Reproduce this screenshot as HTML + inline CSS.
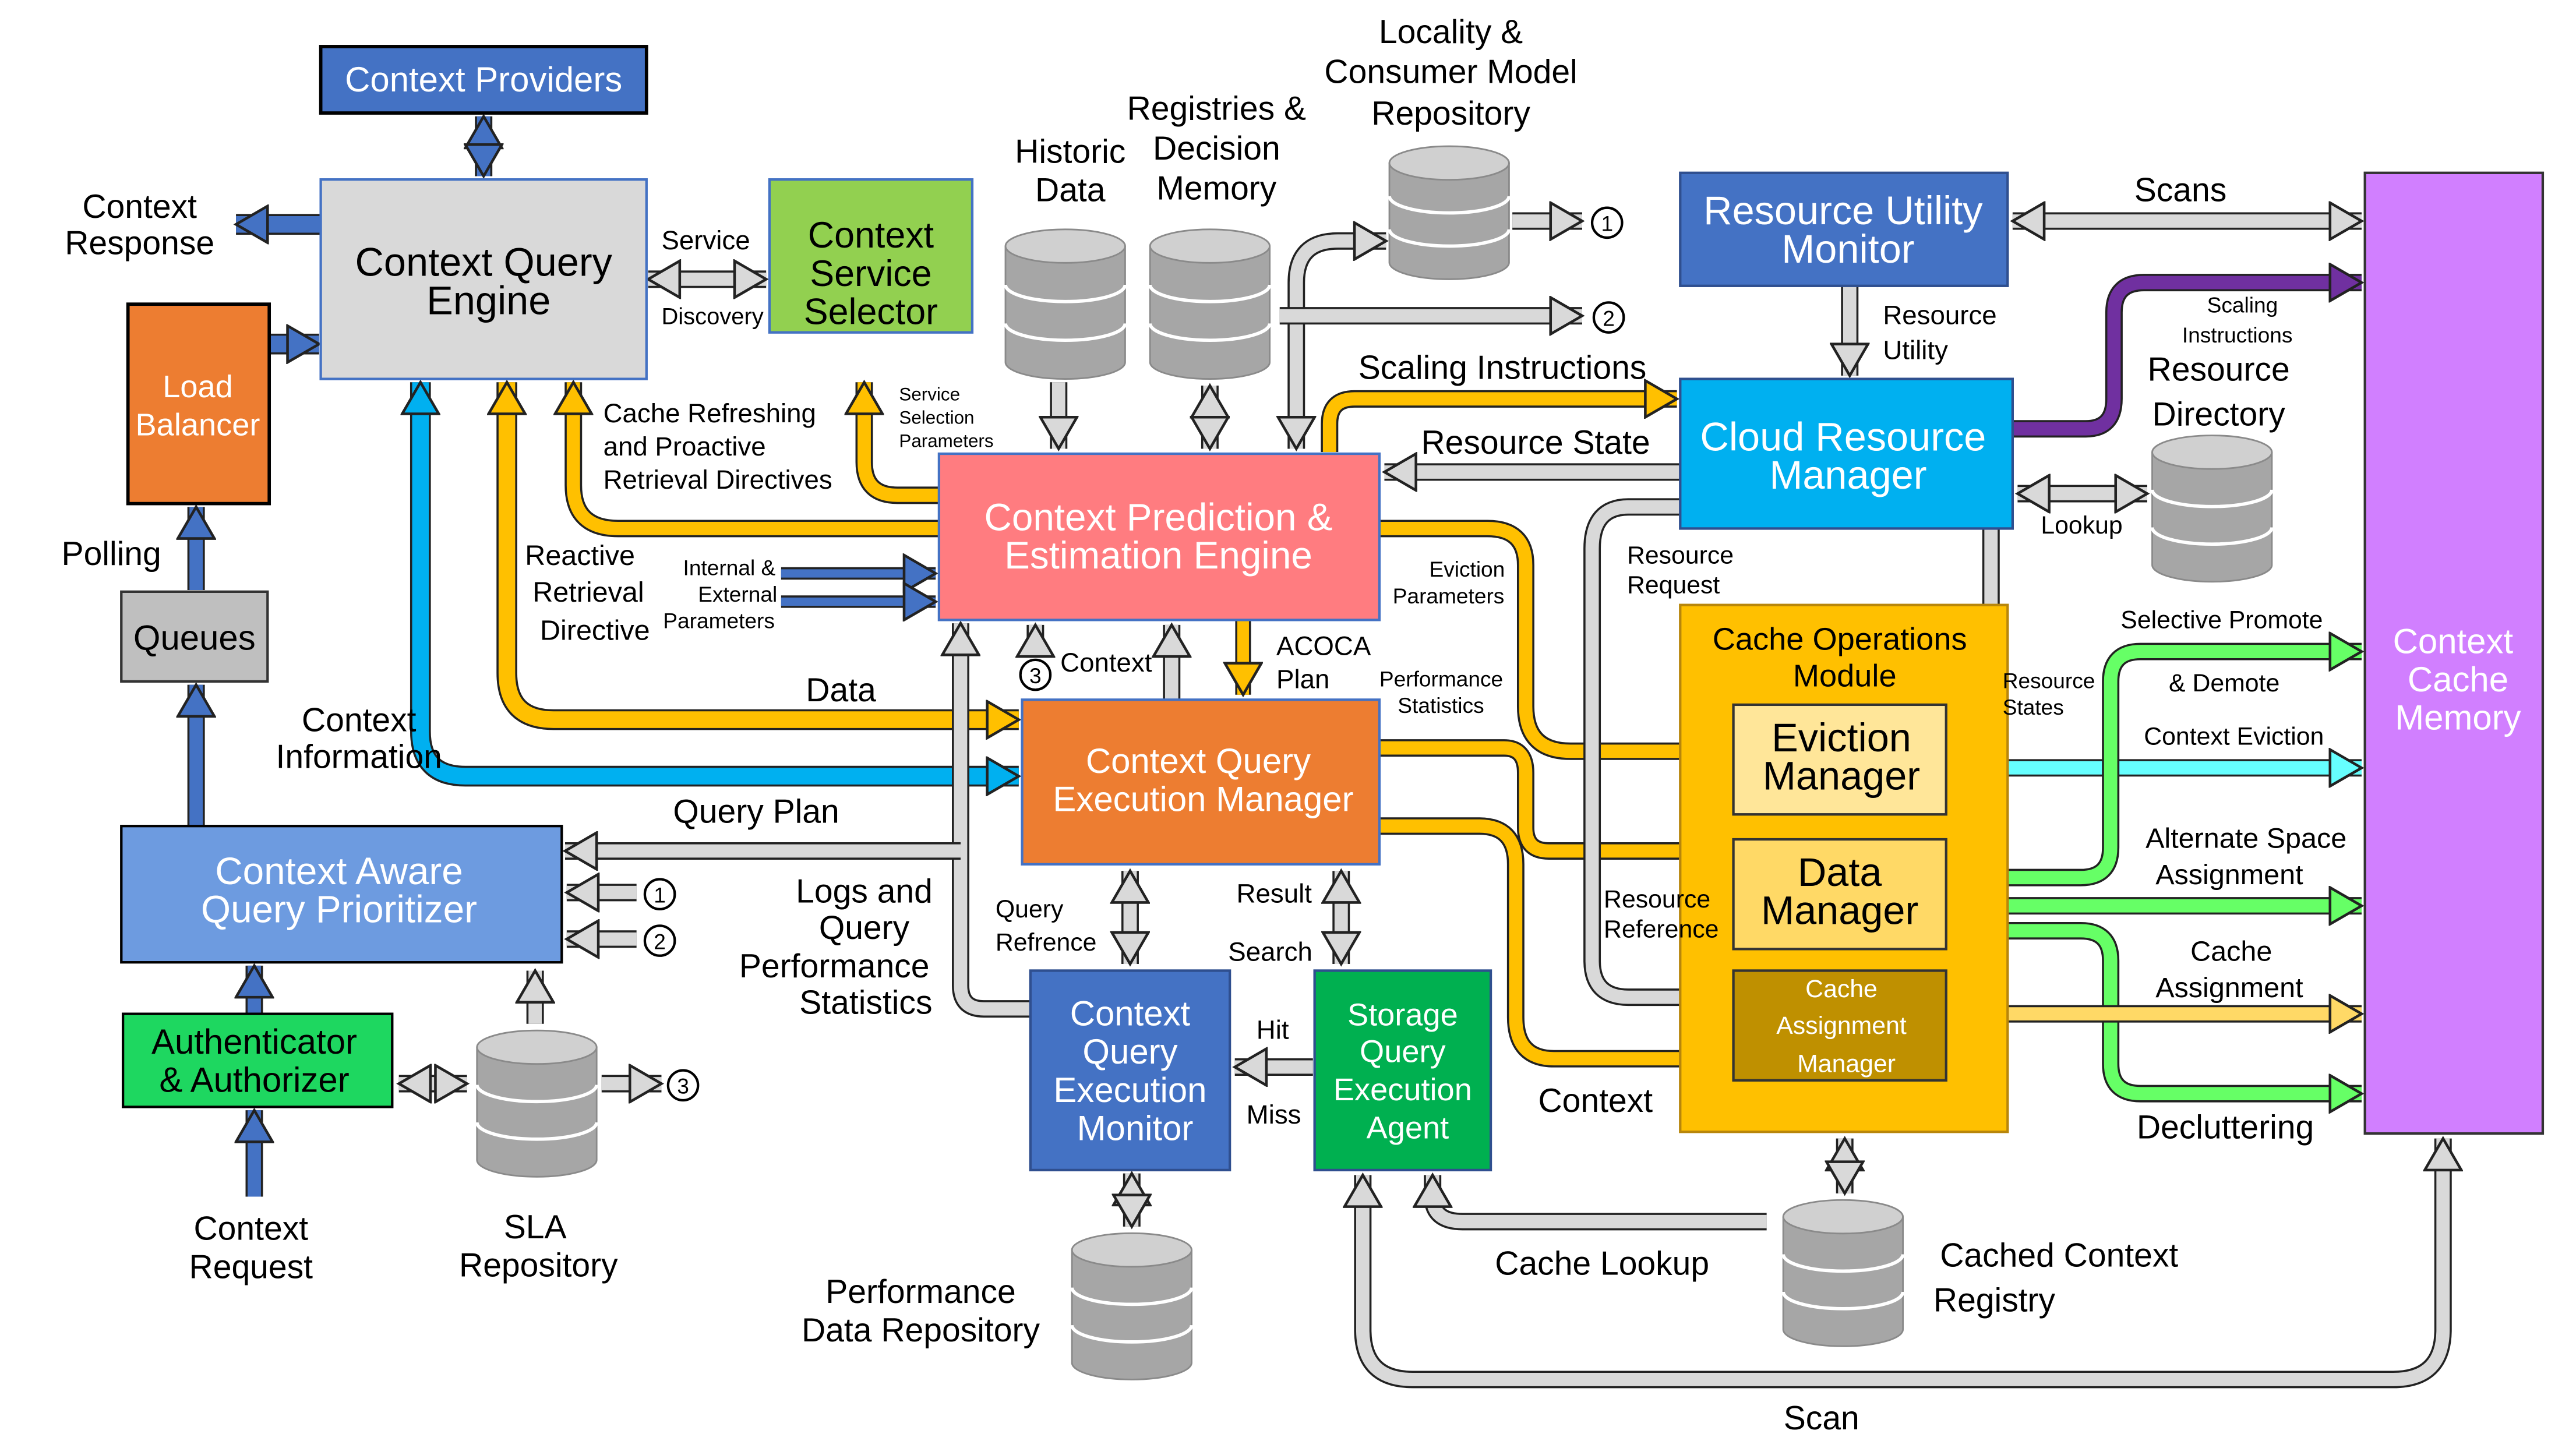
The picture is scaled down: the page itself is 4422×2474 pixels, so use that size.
<!DOCTYPE html>
<html><head><meta charset="utf-8"><style>
html,body{margin:0;padding:0;background:#fff}
svg{display:block}
text{font-family:"Liberation Sans",Arial,sans-serif}
</style></head><body>
<svg id="s" width="4422" height="2474" viewBox="0 0 1550 867" preserveAspectRatio="none" xmlns="http://www.w3.org/2000/svg">
<defs id="defs"></defs>
<rect x="0" y="0" width="1550" height="867" fill="#fff"/>
<g id="arrows"></g>
<g id="boxes">
<rect x="1011" y="364" width="197" height="317" fill="#ffc000" stroke="#b8860b" stroke-width="1.5"/>
<rect x="193" y="28" width="196" height="40" fill="#4472c4" stroke="#000" stroke-width="2"/>
<rect x="193" y="108" width="196" height="120" fill="#d9d9d9" stroke="#4472c4" stroke-width="1.5"/>
<rect x="463" y="108" width="122" height="92" fill="#92d050" stroke="#4472c4" stroke-width="1.5"/>
<rect x="77" y="183" width="85" height="120" fill="#ed7d31" stroke="#000" stroke-width="2"/>
<rect x="73" y="356" width="88" height="54" fill="#bfbfbf" stroke="#333" stroke-width="1.5"/>
<rect x="73" y="497" width="265" height="82" fill="#6d9be0" stroke="#000" stroke-width="1.5"/>
<rect x="74" y="610" width="162" height="56" fill="#1ed760" stroke="#000" stroke-width="1.5"/>
<rect x="565" y="273" width="265" height="100" fill="#ff7c80" stroke="#4472c4" stroke-width="1.5"/>
<rect x="615" y="421" width="215" height="99" fill="#ed7d31" stroke="#4472c4" stroke-width="1.5"/>
<rect x="620" y="584" width="120" height="120" fill="#4472c4" stroke="#2f4f8f" stroke-width="1.5"/>
<rect x="791" y="584" width="106" height="120" fill="#00b050" stroke="#2f4f8f" stroke-width="1.5"/>
<rect x="1011" y="104" width="197" height="68" fill="#4472c4" stroke="#2f4f8f" stroke-width="1.5"/>
<rect x="1011" y="228" width="200" height="90" fill="#00b0f0" stroke="#2f4f8f" stroke-width="1.5"/>
<rect x="1043" y="424" width="128" height="66" fill="#ffe699" stroke="#333" stroke-width="1.5"/>
<rect x="1043" y="505" width="128" height="66" fill="#ffd966" stroke="#333" stroke-width="1.5"/>
<rect x="1043" y="584" width="128" height="66" fill="#bf9000" stroke="#333" stroke-width="1.5"/>
<rect x="1423" y="104" width="107" height="578" fill="#d17fff" stroke="#333" stroke-width="1.5"/>
</g>
<g id="dbs"></g>
<g font-size="21" text-anchor="middle">
<text x="291" y="55" fill="#fff">Context Providers</text>
<text x="291" y="166" font-size="24">Context Query</text>
<text x="294" y="189" font-size="24">Engine</text>
<text x="524" y="149" font-size="22">Context</text>
<text x="524" y="172" font-size="22">Service</text>
<text x="524" y="195" font-size="22">Selector</text>
<text x="119" y="239" fill="#fff" font-size="19">Load</text>
<text x="119" y="262" fill="#fff" font-size="19">Balancer</text>
<text x="117" y="391">Queues</text>
<text x="204" y="532" fill="#fff" font-size="23">Context Aware</text>
<text x="204" y="555" fill="#fff" font-size="23">Query Prioritizer</text>
<text x="153" y="634">Authenticator</text>
<text x="153" y="657">&amp; Authorizer</text>
<text x="697" y="319" fill="#fff" font-size="23">Context Prediction &amp;</text>
<text x="697" y="342" fill="#fff" font-size="23">Estimation Engine</text>
<text x="721" y="465" fill="#fff">Context Query</text>
<text x="724" y="488" fill="#fff">Execution Manager</text>
<text x="680" y="617" fill="#fff">Context</text>
<text x="680" y="640" fill="#fff">Query</text>
<text x="680" y="663" fill="#fff">Execution</text>
<text x="683" y="686" fill="#fff">Monitor</text>
<text x="844" y="617" fill="#fff" font-size="19">Storage</text>
<text x="844" y="639" fill="#fff" font-size="19">Query</text>
<text x="844" y="662" fill="#fff" font-size="19">Execution</text>
<text x="847" y="685" fill="#fff" font-size="19">Agent</text>
<text x="1109" y="135" fill="#fff" font-size="24">Resource Utility</text>
<text x="1112" y="158" fill="#fff" font-size="24">Monitor</text>
<text x="1109" y="271" fill="#fff" font-size="24">Cloud Resource</text>
<text x="1112" y="294" fill="#fff" font-size="24">Manager</text>
<text x="1107" y="391" font-size="19">Cache Operations</text>
<text x="1110" y="413" font-size="19">Module</text>
<text x="1108" y="452" font-size="24">Eviction</text>
<text x="1108" y="475" font-size="24">Manager</text>
<text x="1107" y="533" font-size="24">Data</text>
<text x="1107" y="556" font-size="24">Manager</text>
<text x="1108" y="600" fill="#fff" font-size="15">Cache</text>
<text x="1108" y="622" fill="#fff" font-size="15">Assignment</text>
<text x="1111" y="645" fill="#fff" font-size="15">Manager</text>
<text x="1476" y="393" fill="#fff">Context</text>
<text x="1479" y="416" fill="#fff">Cache</text>
<text x="1479" y="439" fill="#fff">Memory</text>
</g>
<g font-size="20" text-anchor="middle">
<text x="84" y="131">Context</text>
<text x="84" y="153">Response</text>
<text x="67" y="340">Polling</text>
<text x="216" y="440">Context</text>
<text x="216" y="462">Information</text>
<text x="455" y="495">Query Plan</text>
<text x="506" y="422">Data</text>
<text x="520" y="543">Logs and</text>
<text x="520" y="565">Query</text>
<text x="502" y="588">Performance</text>
<text x="521" y="610">Statistics</text>
<text x="151" y="746">Context</text>
<text x="151" y="769">Request</text>
<text x="322" y="745">SLA</text>
<text x="324" y="768">Repository</text>
<text x="554" y="784">Performance</text>
<text x="554" y="807">Data Repository</text>
<text x="644" y="98">Historic</text>
<text x="644" y="121">Data</text>
<text x="732" y="72">Registries &amp;</text>
<text x="732" y="96">Decision</text>
<text x="732" y="120">Memory</text>
<text x="873" y="26">Locality &amp;</text>
<text x="873" y="50">Consumer Model</text>
<text x="873" y="75">Repository</text>
<text x="1312" y="121">Scans</text>
<text x="904" y="228">Scaling Instructions</text>
<text x="924" y="273">Resource State</text>
<text x="1335" y="229">Resource</text>
<text x="1335" y="256">Directory</text>
<text x="960" y="669">Context</text>
<text x="964" y="767">Cache Lookup</text>
<text x="1239" y="762">Cached Context</text>
<text x="1200" y="789">Registry</text>
<text x="1096" y="860">Scan</text>
<text x="1339" y="685">Decluttering</text>
<text x="349" y="340" font-size="17">Reactive</text>
<text x="354" y="362" font-size="17">Retrieval</text>
<text x="358" y="385" font-size="17">Directive</text>
</g>
<g font-size="16" text-anchor="start">
<text x="398" y="150">Service</text>
<text x="398" y="195" font-size="14">Discovery</text>
<text x="363" y="254">Cache Refreshing</text>
<text x="363" y="274">and Proactive</text>
<text x="363" y="294">Retrieval Directives</text>
<text x="768" y="394">ACOCA</text>
<text x="768" y="414">Plan</text>
<text x="638" y="404">Context</text>
<text x="599" y="552" font-size="15">Query</text>
<text x="599" y="572" font-size="15">Refrence</text>
<text x="744" y="543">Result</text>
<text x="739" y="578">Search</text>
<text x="756" y="625">Hit</text>
<text x="750" y="676">Miss</text>
<text x="1133" y="195">Resource</text>
<text x="1133" y="216">Utility</text>
<text x="979" y="339" font-size="15">Resource</text>
<text x="979" y="357" font-size="15">Request</text>
<text x="965" y="546" font-size="15">Resource</text>
<text x="965" y="564" font-size="15">Reference</text>
<text x="1228" y="321" font-size="15">Lookup</text>
<text x="1276" y="378" font-size="15">Selective Promote</text>
<text x="1305" y="416" font-size="15">&amp; Demote</text>
<text x="1290" y="448" font-size="15">Context Eviction</text>
<text x="1291" y="510" font-size="17">Alternate Space</text>
<text x="1297" y="532" font-size="17">Assignment</text>
<text x="1318" y="578" font-size="17">Cache</text>
<text x="1297" y="600" font-size="17">Assignment</text>
</g>
<g font-size="13" text-anchor="start">
<text x="411" y="346">Internal &amp;</text>
<text x="420" y="362">External</text>
<text x="399" y="378">Parameters</text>
<text x="541" y="241" font-size="11">Service</text>
<text x="541" y="255" font-size="11">Selection</text>
<text x="541" y="269" font-size="11">Parameters</text>
<text x="860" y="347">Eviction</text>
<text x="838" y="363">Parameters</text>
<text x="830" y="413">Performance</text>
<text x="841" y="429">Statistics</text>
<text x="1205" y="414">Resource</text>
<text x="1205" y="430">States</text>
<text x="1328" y="188">Scaling</text>
<text x="1313" y="206">Instructions</text>
</g>
<g id="circ"></g>
</svg>
<script>
const NS="http://www.w3.org/2000/svg";
const defs=document.getElementById('defs'),G=document.getElementById('arrows');
const cols={};
function el(t,a,p){const e=document.createElementNS(NS,t);for(const k in a)e.setAttribute(k,a[k]);(p||G).appendChild(e);return e;}
function mk(c){
 if(cols[c])return cols[c];const id='m'+Object.keys(cols).length;cols[c]=id;
 const m=el('marker',{id:id,markerUnits:'userSpaceOnUse',markerWidth:24,markerHeight:24,viewBox:'0 0 24 24',refX:22,refY:12,orient:'auto-start-reverse'},defs);
 el('path',{d:'M3,1 L22,12 L3,23 z',fill:c,stroke:'#222','stroke-width':1.6,'stroke-linejoin':'miter'},m);
 return id;}
mk('#000');
function A(d,c,s,e,w){w=w||8;const id=mk(c);
 el('path',{d:d,fill:'none',stroke:'#222','stroke-width':w+2.5,'stroke-linejoin':'round'});
 const a={d:d,fill:'none',stroke:c,'stroke-width':w,'stroke-linejoin':'round'};
 if(s)a['marker-start']='url(#'+id+')';if(e)a['marker-end']='url(#'+id+')';el('path',a);}
const B='#4472c4',GR='#d9d9d9',O='#ffc000',LB='#00b0f0',P='#7030a0',GN='#66ff66',CY='#66ffff',LO='#ffd966';
A('M291,70 L291,106',B,1,1);
A('M193,135 L142,135',B,0,1,10);
A('M162,207 L192,207',B,0,1,10);
A('M118,355 L118,305',B,0,1);
A('M118,497 L118,412',B,0,1);
A('M153,610 L153,581',B,0,1);
A('M153,720 L153,668',B,0,1);
A('M470,345 L563,345',B,0,1,5);
A('M470,362 L563,362',B,0,1,5);
A('M253,230 L253,440 Q253,467 280,467 L613,467',LB,1,1,10);
A('M305,230 L305,405 Q305,433 333,433 L613,433',O,1,1,10);
A('M565,318 L372,318 Q345,318 345,292 L345,230',O,0,1,8);
A('M565,298 L540,298 Q520,298 520,278 L520,230',O,0,1,8);
A('M800,272 L800,255 Q800,240 815,240 L1009,240',O,0,1,8);
A('M748,373 L748,418',O,0,1,7);
A('M830,318 L895,318 Q918,318 918,340 L918,425 Q918,452 945,452 L1041,452',O,0,1,8);
A('M830,450 L905,450 Q918,450 918,465 L918,498 Q918,512 932,512 L1041,512',O,0,1,8);
A('M830,497 L890,497 Q912,497 912,520 L912,612 Q912,637 935,637 L1041,637',O,0,1,8);
A('M390,168 L461,168',GR,1,1);
A('M240,652 L281,652',GR,1,1);
A('M322,616 L322,584',GR,0,1);
A('M362,652 L398,652',GR,0,1);
A('M383,537 L341,537',GR,0,1);
A('M383,565 L341,565',GR,0,1);
A('M620,607 L592,607 Q578,607 578,593 L578,375',GR,0,1);
A('M578,512 L340,512',GR,0,1);
A('M637,230 L637,270',GR,0,1);
A('M728,232 L728,270',GR,1,1);
A('M780,270 L780,170 Q780,145 805,145 L834,145',GR,1,1);
A('M910,133 L952,133',GR,0,1);
A('M770,190 L952,190',GR,0,1);
A('M1011,284 L833,284',GR,0,1);
A('M623,392 L623,376',GR,0,1);
A('M705,421 L705,376',GR,0,1);
A('M680,524 L680,580',GR,1,1);
A('M807,524 L807,580',GR,1,1);
A('M790,642 L743,642',GR,0,1);
A('M681,706 L681,738',GR,1,1);
A('M1063,735 L880,735 Q862,735 862,720 L862,707',GR,0,1);
A('M820,707 L820,800 Q820,830 850,830 L1440,830 Q1470,830 1470,800 L1470,685',GR,1,1);
A('M1011,305 L980,305 Q958,305 958,330 L958,578 Q958,600 980,600 L1041,600',GR,0,1);
A('M1198,318 L1198,505 Q1198,515 1188,515 L1173,515',GR,0,1);
A('M1214,297 L1292,297',GR,1,1);
A('M1113,172 L1113,226',GR,0,1);
A('M1211,133 L1421,133',GR,1,1);
A('M1110,685 L1110,718',GR,1,1);
A('M1211,258 L1255,258 Q1272,258 1272,240 L1272,188 Q1272,170 1290,170 L1421,170',P,0,1);
A('M1171,462 L1421,462',CY,0,1);
A('M1171,528 L1252,528 Q1270,528 1270,510 L1270,410 Q1270,392 1288,392 L1421,392',GN,0,1);
A('M1171,545 L1421,545',GN,0,1);
A('M1171,560 L1252,560 Q1270,560 1270,578 L1270,640 Q1270,658 1288,658 L1421,658',GN,0,1);
A('M1171,610 L1421,610',LO,0,1);
const D=document.getElementById('dbs');
function db(x,y,w,h){const rx=w/2,ry=w*0.14;
 el('path',{d:`M${x},${y+ry} L${x},${y+h-ry} A${rx},${ry} 0 0 0 ${x+w},${y+h-ry} L${x+w},${y+ry}`,fill:'#a6a6a6',stroke:'#8a8a8a'},D);
 for(let i=1;i<3;i++){const yy=y+ry+(h-2*ry)*i/3;el('path',{d:`M${x},${yy} A${rx},${ry} 0 0 0 ${x+w},${yy}`,fill:'none',stroke:'#fff','stroke-width':2},D);}
 el('ellipse',{cx:x+rx,cy:y+ry,rx:rx,ry:ry,fill:'#d0d0d0',stroke:'#8a8a8a'},D);}
db(605,138,72,90);db(692,138,72,90);db(836,88,72,80);db(1295,262,72,88);db(287,620,72,88);db(645,742,72,88);db(1073,722,72,88);
const C=document.getElementById('circ');
[[967,134,'1'],[968,191,'2'],[397,538,'1'],[397,566,'2'],[411,653,'3'],[623,406,'3']].forEach(c=>{
 el('circle',{cx:c[0],cy:c[1],r:9,fill:'#fff',stroke:'#000','stroke-width':1.5},C);
 const t=el('text',{x:c[0],y:c[1]+5,'text-anchor':'middle','font-size':13},C);t.textContent=c[2];});
</script>
</body></html>
